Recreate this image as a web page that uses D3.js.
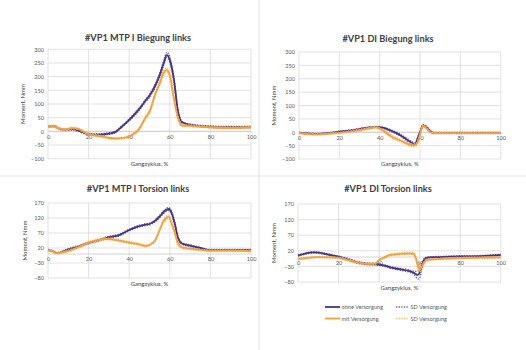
<!DOCTYPE html>
<html><head><meta charset="utf-8">
<script src="https://cdn.jsdelivr.net/npm/d3@7"></script>
<style>
html,body{margin:0;padding:0;background:#fff;}
svg{display:block;}
text{font-family:Lato,"Open Sans",sans-serif;}
</style></head>
<body>
<svg id="c" width="526" height="350"></svg>
<script>
// ---------- data ----------
const titles = ["#VP1 MTP I Biegung links","#VP1 DI Biegung links","#VP1 MTP I Torsion links","#VP1 DI Torsion links"];
const xTicks = [0,20,40,60,80,100];
const yTicksBiegung = [300,250,200,150,100,50,0,-50,-100];
const yTicksTorsion = [170,120,70,20,-30,-80];
const seriesNames = ["ohne Versorgung","SD Versorgung","mit Versorgung","SD Versorgung"];

// Panel 1: MTP I Biegung
const p1X    = [0,3,5,8,12,15,18,20,25,30,33,36,40,45,48,50,53,55,57,58.5,60,62,64,66,70,80,90,100];
const p1Ohne = [17,19,12,6,8,3,-6,-10,-12,-8,-3,15,42,82,112,130,170,205,250,279,262,190,75,33,24,17,15,16];
const p1Mit  = [17,18,12,6,12,9,-3,-10,-17,-24,-26,-25,-18,10,50,72,140,175,215,224,205,120,50,22,20,15,13,15];
const p1SdOhne = [3,3,3,3,3,3,3,3,3,3,3,3,4,5,5,6,7,8,9,10,10,9,7,4,3,3,3,3];
const p1SdMit  = [3,3,3,3,3,3,3,3,3,3,3,3,4,5,5,5,6,7,8,8,8,7,6,4,3,3,3,3];

// Panel 2: DI Biegung
const p2X    = [0,5,10,15,20,25,30,35,38,42,45,50,53,56,57.5,59,60,61.5,63,65,67,70,80,90,100];
const p2Ohne = [-2,-5,-6,-3,2,6,12,18,20,16,8,-10,-25,-40,-44,-20,0,25,20,5,-3,-3,-3,-3,-3];
const p2Mit  = [-3,-7,-8,-5,-2,2,8,15,18,5,-12,-30,-40,-49,-48,-35,-8,24,16,1,-3,-3,-3,-3,-3];
const p2SdOhne = [2,2,2,2,2,2,2,2,2,3,3,4,5,5,5,5,4,4,4,3,2,2,2,2,2];
const p2SdMit  = [2,2,2,2,2,2,3,3,3,4,5,5,5,5,5,5,5,5,4,3,2,2,2,2,2];

// Panel 3: MTP I Torsion
const p3X    = [0,2,4.5,8,10,15,20,25,28,30,35,40,45,48,50,53,55,57,58.5,59.5,61,62.5,64,66,70,75,80,90,100];
const p3Ohne = [13,10,3,10,15,25,37,46,52,56,63,80,93,98,100,112,125,140,148,150,135,100,55,35,28,20,13,13,13];
const p3Mit  = [12,9,3,7,10,23,38,47,50,50,45,38,32,27,30,48,80,110,122,124,100,70,35,22,18,14,11,11,10];
const p3SdOhne = [2,2,2,3,3,3,3,3,3,3,3,3,3,3,3,4,4,5,5,5,5,5,4,3,3,2,2,2,2];
const p3SdMit  = [2,2,2,3,3,3,3,3,3,3,3,3,3,3,3,4,5,5,5,5,5,5,4,3,3,2,2,2,2];

// Panel 4: DI Torsion
const p4X    = [0,3,6,8,10,15,20,25,30,35,38,40,43,45,50,55,57,58,59,60,61,62,63,65,70,80,90,100];
const p4Ohne = [5,10,14,15,14,8,1,-8,-18,-22,-23,-24,-28,-32,-39,-45,-50,-54,-58,-50,-30,-12,-4,-1,0,2,3,7];
const p4Mit  = [-6,-4,-2,-1,0,-1,-3,-10,-18,-22,-21,-10,0,6,10,12,10,0,-25,-40,-32,-20,-12,-8,-6,-3,-2,-1];
const p4SdOhne = [2,2,2,2,2,2,2,3,3,3,3,3,3,3,3,4,5,8,12,18,12,6,3,2,2,2,2,2];
const p4SdMit  = [2,2,2,2,2,2,2,3,3,3,3,3,3,3,3,3,4,5,8,8,6,4,3,2,2,2,2,2];

// ---------- layout ----------
const colors = {ohne:"#463481", ohneSd:"#6b5ba6", mit:"#f5a038", mitSd:"#f8b866"};
const panels = [
  {title:titles[0], x:p1X, ohne:p1Ohne, mit:p1Mit, sdO:p1SdOhne, sdM:p1SdMit, yTicks:yTicksBiegung,
   l:48, r:251, t:49.3, b:158.7, titleX:138, titleY:41, xlabY:166, ylabX:25},
  {title:titles[1], x:p2X, ohne:p2Ohne, mit:p2Mit, sdO:p2SdOhne, sdM:p2SdMit, yTicks:yTicksBiegung,
   l:299, r:500.7, t:52, b:159, titleX:388, titleY:42, xlabY:166, ylabX:276},
  {title:titles[2], x:p3X, ohne:p3Ohne, mit:p3Mit, sdO:p3SdOhne, sdM:p3SdMit, yTicks:yTicksTorsion,
   l:48, r:251, t:203, b:278, titleX:138, titleY:192, xlabY:286, ylabX:27},
  {title:titles[3], x:p4X, ohne:p4Ohne, mit:p4Mit, sdO:p4SdOhne, sdM:p4SdMit, yTicks:yTicksTorsion,
   l:298, r:500.7, t:204, b:282, titleX:388, titleY:192, xlabY:290, ylabX:276}
];

const svg = d3.select("#c");
// panel separators
svg.append("line").attr("x1",259).attr("x2",259).attr("y1",0).attr("y2",350).attr("stroke","#e3e3e3").attr("stroke-width",1);
svg.append("line").attr("x1",0).attr("x2",526).attr("y1",176).attr("y2",176).attr("stroke","#e3e3e3").attr("stroke-width",1);

panels.forEach(p => {
  const yMax = d3.max(p.yTicks), yMin = d3.min(p.yTicks);
  const xs = d3.scaleLinear().domain([0,100]).range([p.l,p.r]);
  const ys = d3.scaleLinear().domain([yMin,yMax]).range([p.b,p.t]);
  const g = svg.append("g");

  // horizontal gridlines
  g.append("g").selectAll("line").data(p.yTicks).join("line")
    .attr("x1",p.l).attr("x2",p.r).attr("y1",d=>ys(d)).attr("y2",d=>ys(d))
    .attr("stroke","#d9d9d9").attr("stroke-width",0.8);
  // vertical gridlines
  g.append("g").selectAll("line").data(xTicks).join("line")
    .attr("x1",d=>xs(d)).attr("x2",d=>xs(d)).attr("y1",p.t).attr("y2",p.b)
    .attr("stroke","#d9d9d9").attr("stroke-width",0.8);
  // zero axis line
  g.append("line").attr("x1",p.l).attr("x2",p.r).attr("y1",ys(0)).attr("y2",ys(0))
    .attr("stroke","#c8c8c8").attr("stroke-width",0.8);

  // y axis labels
  const yAxis = d3.axisLeft(ys).tickValues(p.yTicks).tickSize(0).tickPadding(4);
  const ya = g.append("g").attr("transform",`translate(${p.l},0)`).call(yAxis);
  ya.select(".domain").remove();
  ya.selectAll("text").attr("font-size",5.6).attr("fill","#595959").attr("font-family","Lato, sans-serif");

  // x axis labels at zero line
  const xAxis = d3.axisBottom(xs).tickValues(xTicks).tickSize(0).tickPadding(3.5);
  const xa = g.append("g").attr("transform",`translate(0,${ys(0)})`).call(xAxis);
  xa.select(".domain").remove();
  xa.selectAll("text").attr("font-size",5.6).attr("fill","#595959").attr("font-family","Lato, sans-serif");

  // title
  g.append("text").attr("x",p.titleX).attr("y",p.titleY).attr("text-anchor","middle")
    .attr("font-size",9.2).attr("font-weight","bold").attr("fill","#404040").text(p.title);
  // axis titles
  g.append("text").attr("x",(p.l+p.r)/2).attr("y",p.xlabY).attr("text-anchor","middle")
    .attr("font-size",6).attr("fill","#404040").text("Gangzyklus, %");
  g.append("text").attr("transform",`translate(${p.ylabX},${(p.t+p.b)/2}) rotate(-90)`)
    .attr("text-anchor","middle").attr("font-size",6).attr("fill","#404040").text("Moment, Nmm");

  const line = (vals, off, sign) => d3.line()
    .x((d,i)=>xs(p.x[i])).y((d,i)=>ys(vals[i] + sign*(off?off[i]:0)))
    .curve(d3.curveMonotoneX)(vals);

  const drawSet = (mean, sd, c, cs) => {
    [1,-1].forEach(s => {
      g.append("path").attr("d",line(mean,sd,s)).attr("fill","none")
        .attr("stroke",cs).attr("stroke-width",1.3).attr("stroke-dasharray","1.3,1.3");
    });
    g.append("path").attr("d",line(mean,null,0)).attr("fill","none")
      .attr("stroke",c).attr("stroke-width",1.8).attr("stroke-linejoin","round");
  };
  drawSet(p.ohne, p.sdO, colors.ohne, colors.ohneSd);
  drawSet(p.mit, p.sdM, colors.mit, colors.mitSd);
});

// legend
const legend = svg.append("g");
const legItems = [
  {name:seriesNames[0], c:colors.ohne, dash:null, x:325, y:307},
  {name:seriesNames[1], c:colors.ohneSd, dash:"1.3,1.3", x:396, y:307},
  {name:seriesNames[2], c:colors.mit, dash:null, x:325, y:318.5},
  {name:seriesNames[3], c:colors.mitSd, dash:"1.3,1.3", x:396, y:318.5}
];
legItems.forEach(it => {
  const w = it.dash ? 13 : 15;
  legend.append("line").attr("x1",it.x).attr("x2",it.x+w).attr("y1",it.y).attr("y2",it.y)
    .attr("stroke",it.c).attr("stroke-width",it.dash?1.3:1.8).attr("stroke-dasharray",it.dash);
  legend.append("text").attr("x",it.x+w+1.5).attr("y",it.y+2).attr("font-size",5.6)
    .attr("fill","#595959").text(it.name);
});
</script>
</body></html>
